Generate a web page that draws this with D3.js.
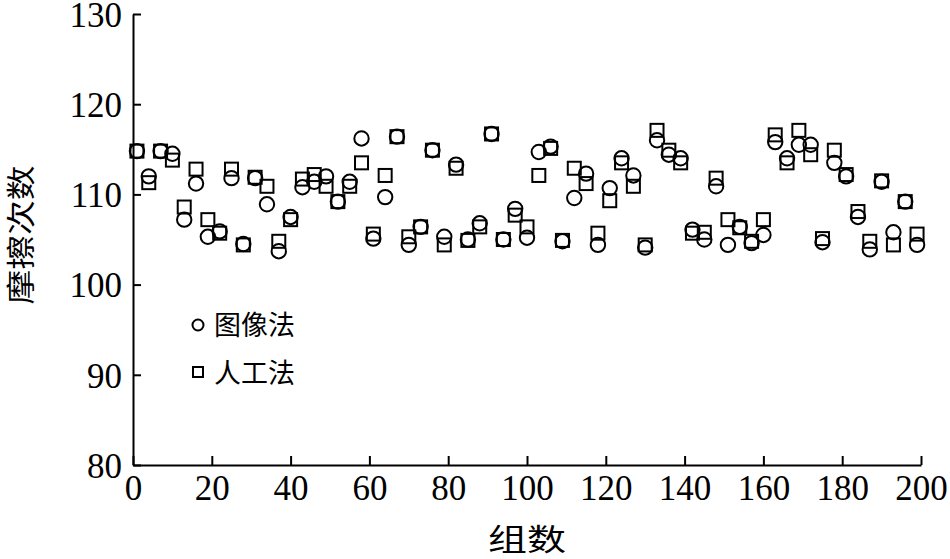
<!DOCTYPE html>
<html>
  <head>
    <meta charset="utf-8">
    <title>摩擦次数</title>
    <script type="text/javascript" src="https://d3js.org/d3.v7.min.js"></script>
    <style type="text/css">
      body { margin: 0; background: #fff; }
      .tick text { font-family: "Liberation Serif", "DejaVu Serif", serif; }
      .cjk { font-family: "Noto Sans CJK SC", sans-serif; }
    </style>
  </head>
  <body>
    <script type="text/javascript">
    // group numbers along x
    var groups = [1, 4, 7, 10, 13, 16, 19, 22, 25, 28, 31, 34, 37, 40, 43, 46, 49, 52, 55, 58,
                  61, 64, 67, 70, 73, 76, 79, 82, 85, 88, 91, 94, 97, 100, 103, 106, 109, 112, 115, 118,
                  121, 124, 127, 130, 133, 136, 139, 142, 145, 148, 151, 154, 157, 160, 163, 166, 169, 172, 175, 178,
                  181, 184, 187, 190, 193, 196, 199];
    // 图像法 (circles)
    var imageMethod = [114.8, 112.0, 114.8, 114.5, 107.2, 111.2, 105.3, 105.9, 111.8, 104.5,
                       111.8, 108.9, 103.7, 107.5, 110.8, 111.4, 112.0, 109.2, 111.4, 116.2,
                       105.1, 109.7, 116.4, 104.4, 106.4, 114.9, 105.3, 113.3, 105.0, 106.8,
                       116.7, 105.0, 108.4, 105.2, 114.7, 115.3, 104.8, 109.6, 112.3, 104.4,
                       110.7, 114.0, 112.1, 104.1, 116.0, 114.4, 114.0, 106.1, 105.0, 110.9,
                       104.4, 106.4, 104.6, 105.5, 115.8, 114.0, 115.5, 115.5, 104.7, 113.5,
                       112.0, 107.5, 103.9, 111.4, 105.8, 109.2, 104.4];
    // 人工法 (squares)
    var manualMethod = [114.8, 111.3, 114.8, 113.8, 108.6, 112.8, 107.2, 105.7, 112.8, 104.4,
                        111.9, 110.9, 104.8, 107.2, 111.7, 112.2, 110.9, 109.2, 110.9, 113.5,
                        105.6, 112.1, 116.4, 105.3, 106.4, 114.9, 104.4, 112.9, 104.9, 106.4,
                        116.7, 105.0, 107.7, 106.4, 112.1, 115.1, 104.9, 112.9, 111.2, 105.7,
                        109.3, 113.5, 110.9, 104.4, 117.1, 114.9, 113.5, 105.7, 105.8, 111.8,
                        107.2, 106.3, 104.8, 107.2, 116.6, 113.5, 117.1, 114.4, 105.1, 114.9,
                        112.2, 108.1, 104.8, 111.5, 104.4, 109.2, 105.6];
    var xTicks = [0, 20, 40, 60, 80, 100, 120, 140, 160, 180, 200];
    var yTicks = [80, 90, 100, 110, 120, 130];

    var widthSVG = 950, heightSVG = 559;
    var plotLeft = 133, plotRight = 921, plotTop = 14, plotBottom = 465;

    var svg = d3.select("body").append("svg")
                .attr("width", widthSVG)
                .attr("height", heightSVG);

    var xScale = d3.scaleLinear().domain([0, 200]).range([plotLeft, plotRight]);
    var yScale = d3.scaleLinear().domain([80, 130]).range([plotBottom, plotTop]);

    // axes, ticks pointing inward
    var xAxis = d3.axisBottom(xScale).tickValues(xTicks).tickSizeInner(-9).tickSizeOuter(0).tickPadding(10);
    var yAxis = d3.axisLeft(yScale).tickValues(yTicks).tickSizeInner(-8).tickSizeOuter(0).tickPadding(11);

    var gx = svg.append("g")
       .attr("transform", "translate(0," + plotBottom + ")")
       .call(xAxis);
    var gy = svg.append("g")
       .attr("transform", "translate(" + plotLeft + ",0)")
       .call(yAxis);

    [gx, gy].forEach(function(g) {
      g.selectAll("path").attr("stroke", "#000").attr("stroke-width", 2);
      g.selectAll("line").attr("stroke", "#000").attr("stroke-width", 2);
      g.selectAll("text").attr("fill", "#000").style("font-size", "35px");
    });
    gx.selectAll("text").attr("dy", "0.71em");
    gy.selectAll("text").attr("dy", "0.35em");

    // points: circles for 图像法, squares for 人工法
    var sq = 13;
    svg.append("g").selectAll("rect")
       .data(groups)
       .enter()
       .append("rect")
       .attr("x", function(d, i) { return xScale(d) - sq / 2; })
       .attr("y", function(d, i) { return yScale(manualMethod[i]) - sq / 2; })
       .attr("width", sq)
       .attr("height", sq)
       .attr("fill", "none")
       .attr("stroke", "#000")
       .attr("stroke-width", 2);

    svg.append("g").selectAll("circle")
       .data(groups)
       .enter()
       .append("circle")
       .attr("cx", function(d) { return xScale(d); })
       .attr("cy", function(d, i) { return yScale(imageMethod[i]); })
       .attr("r", 7.2)
       .attr("fill", "none")
       .attr("stroke", "#000")
       .attr("stroke-width", 2);

    // legend
    var legend = svg.append("g");
    legend.append("circle")
          .attr("cx", 198).attr("cy", 325).attr("r", 5.5)
          .attr("fill", "none").attr("stroke", "#000").attr("stroke-width", 2);
    legend.append("text")
          .attr("class", "cjk")
          .attr("x", 214).attr("y", 335)
          .style("font-size", "27px")
          .text("图像法");
    legend.append("rect")
          .attr("x", 193).attr("y", 367).attr("width", 10).attr("height", 10)
          .attr("fill", "none").attr("stroke", "#000").attr("stroke-width", 2);
    legend.append("text")
          .attr("class", "cjk")
          .attr("x", 214).attr("y", 383)
          .style("font-size", "27px")
          .text("人工法");

    // axis titles
    svg.append("text")
       .attr("class", "cjk")
       .attr("text-anchor", "middle")
       .attr("transform", "translate(527,550) scale(1.3,1)")
       .style("font-size", "30px")
       .text("组数");
    svg.append("text")
       .attr("class", "cjk")
       .attr("text-anchor", "middle")
       .attr("transform", "translate(32,235) rotate(-90) scale(1.2,1)")
       .style("font-size", "29px")
       .text("摩擦次数");
    </script>
  </body>
</html>
